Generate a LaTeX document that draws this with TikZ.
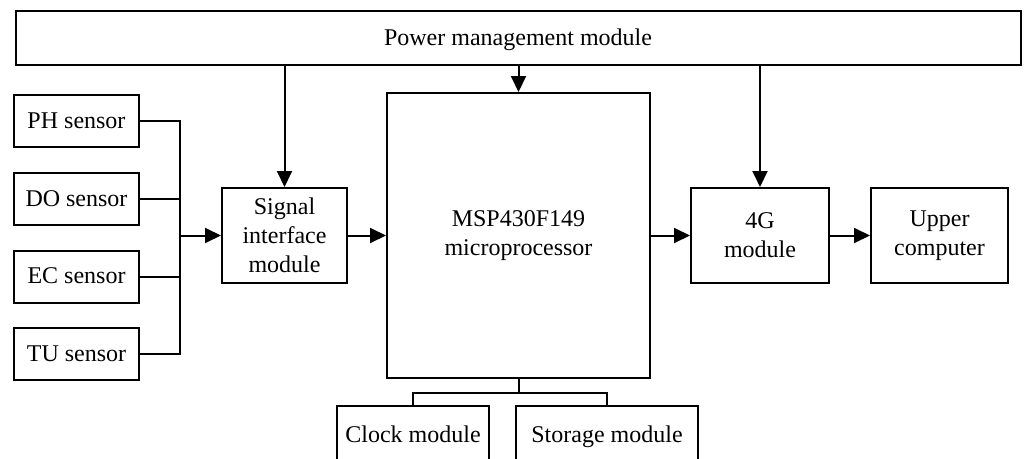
\documentclass[tikz,border=0pt]{standalone}
\usepackage{fontspec}
\setmainfont{Liberation Serif}
\usetikzlibrary{arrows.meta,calc}
\begin{document}
\begin{tikzpicture}[x=1pt,y=-1pt,
  blk/.style={draw,line width=2pt,inner sep=0pt,align=center,font=\fontsize{24}{29}\selectfont},
  one/.style={text height=19pt,text depth=5pt},
  conn/.style={line width=2pt},
  arr/.style={conn,-{Triangle[length=16pt,width=15pt]}}]
\useasboundingbox (0,0) rectangle (1025,458);
\node[blk,one,minimum width=1005pt,minimum height=54pt] (power) at (518,38) {Power management module};
\node[blk,one,minimum width=125pt,minimum height=52pt] (ph) at (76.5,121) {PH sensor};
\node[blk,one,minimum width=125pt,minimum height=52pt] (do) at (76.5,199) {DO sensor};
\node[blk,one,minimum width=125pt,minimum height=52pt] (ec) at (76.5,276.5) {EC sensor};
\node[blk,one,minimum width=125pt,minimum height=52pt] (tu) at (76.5,354) {TU sensor};
\node[blk,minimum width=125pt,minimum height=95pt] (sig) at (284.5,235.5) {Signal\\interface\\module};
\node[blk,minimum width=263pt,minimum height=285pt] (mcu) at (518.5,235.5) {MSP430F149\\microprocessor};
\node[blk,minimum width=138pt,minimum height=95pt] (g4) at (760,235.5) {4G\\module};
\node[blk,minimum width=137pt,minimum height=95pt] (up) at (939.5,235.5) {Upper\\computer};
\node[blk,one,minimum width=152pt,minimum height=58pt] (clk) at (413,435) {Clock module};
\node[blk,one,minimum width=182pt,minimum height=58pt] (sto) at (607,435) {Storage module};
\coordinate (jn) at (180,235.5);
\coordinate (split) at (518.5,393);
% sensors to bus
\draw[conn] (ph.east) -| (jn);
\draw[conn] (tu.east) -| (jn);
\draw[conn] (do.east) -- (do.east -| jn);
\draw[conn] (ec.east) -- (ec.east -| jn);
\draw[arr] (jn) -- (sig.west);
% power arrows
\draw[arr] (power.south -| sig.north) -- (sig.north);
\draw[arr] (power.south -| mcu.north) -- (mcu.north);
\draw[arr] (power.south -| g4.north) -- (g4.north);
% main chain
\draw[arr] (sig.east) -- (mcu.west);
\draw[arr] (mcu.east) -- (g4.west);
\draw[arr] (g4.east) -- (up.west);
% bottom
\draw[conn] (mcu.south) -- (split);
\draw[conn] (clk.north) |- (split) -| (sto.north);
\end{tikzpicture}
\end{document}
